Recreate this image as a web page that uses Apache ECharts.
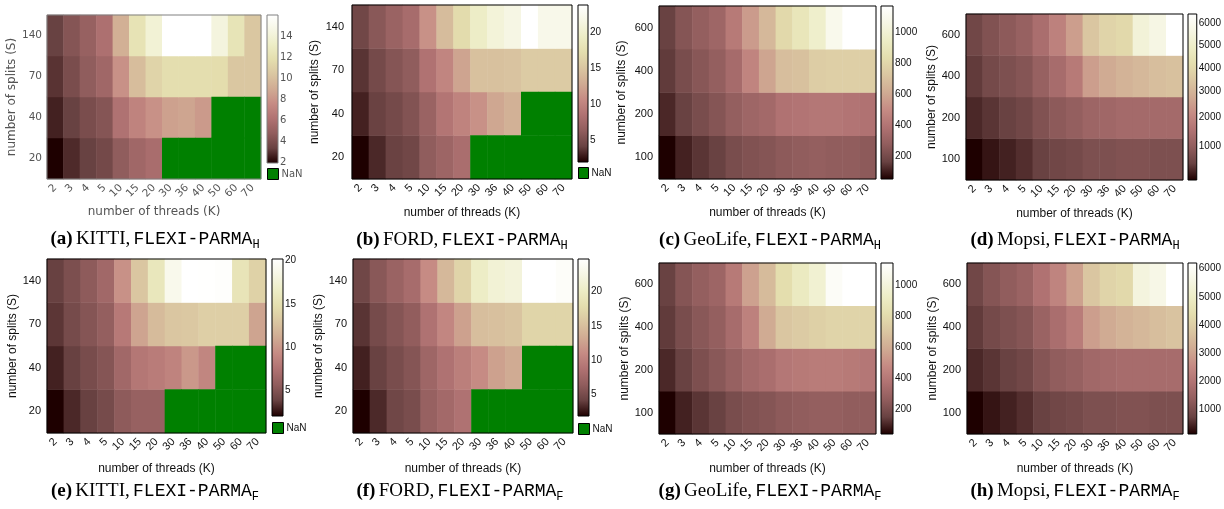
<!DOCTYPE html>
<html><head><meta charset="utf-8">
<script src="https://cdn.jsdelivr.net/npm/echarts@6/dist/echarts.min.js"></script>
<style>html,body{margin:0;padding:0;background:#fff}#c{width:1224px;height:509px}</style>
</head><body><div id="c"></div>
<script>
// ---------------- data ----------------
const threads = ['2','3','4','5','10','15','20','30','36','40','50','60','70'];
const splitsSmall = ['20','40','70','140'];
const splitsLarge = ['100','200','400','600'];

// rows listed bottom -> top (same order as the split categories); null = NaN
const kittiH = [
  [1.9,2.8,3.3,3.7,4.7,5.4,5.8,null,null,null,null,null,null],
  [2.6,3.3,3.9,4.3,6.1,7.1,7.8,8.5,8.7,8.2,null,null,null],
  [3.0,3.9,4.7,5.4,7.8,9.9,11.2,11.8,11.8,11.8,11.7,10.4,10.4],
  [3.3,4.3,5.0,6.0,9.2,12.2,13.9,16.0,16.0,16.0,14.3,12.3,10.4]
];
const fordH = [
  [2.0,3.3,4.2,4.6,6.3,7.2,8.1,null,null,null,null,null,null],
  [3.1,4.2,4.8,5.5,7.0,8.8,10.0,11.1,12.6,13.3,null,null,null],
  [3.7,4.8,5.7,6.3,8.5,10.2,12.4,14.6,14.6,14.8,15.5,15.5,15.5],
  [4.6,5.9,7.0,7.9,11.1,14.2,17.0,19.4,20.7,21.5,23.7,22.0,22.0]
];
const geoH = [
  [50,106,140,162,207,230,240,263,274,285,274,274,263],
  [117,162,207,240,285,320,340,385,397,408,408,397,385],
  [150,207,250,285,350,465,590,690,700,755,765,765,765],
  [162,240,285,320,420,555,665,810,890,970,1090,1170,1170]
];
const mopsiH = [
  [130,209,279,358,485,576,623,720,720,770,770,720,720],
  [318,399,485,576,770,922,1029,1192,1247,1304,1304,1304,1304],
  [442,623,720,820,1082,1360,1711,2524,2787,2988,3123,3260,3329],
  [576,770,922,1082,1417,1893,2524,3467,3890,4033,5363,5670,6450]
];
const kittiF = [
  [2.0,3.1,3.8,4.4,5.5,6.0,6.0,null,null,null,null,null,null],
  [2.9,3.8,4.5,5.1,6.6,7.8,8.2,8.7,10.0,8.9,null,null,null],
  [3.5,4.4,5.1,5.8,8.0,10.7,12.2,12.9,13.1,13.6,13.6,13.6,10.7],
  [3.8,4.7,5.5,6.6,9.6,12.9,15.8,18.9,20.2,20.1,20.0,15.5,13.8]
];
const fordF = [
  [1.9,3.3,4.6,5.1,6.9,7.8,8.7,null,null,null,null,null,null],
  [3.0,4.2,5.1,5.8,7.4,8.7,9.9,11.0,12.6,13.3,null,null,null],
  [3.7,4.9,5.8,6.5,8.7,10.6,12.6,14.9,15.1,15.4,17.0,17.0,17.0],
  [4.6,6.0,7.1,8.1,11.0,14.4,16.9,20.1,21.3,21.7,24.7,24.7,24.2]
];
const geoF = [
  [41,96,129,151,195,217,228,250,261,272,272,261,261],
  [107,151,206,239,283,328,350,394,405,416,416,405,394],
  [140,195,239,272,339,438,592,702,724,746,768,768,768],
  [151,228,272,305,405,559,658,812,900,967,1110,1143,1143]
];
const mopsiF = [
  [136,318,439,561,742,864,924,1046,1046,1106,1106,1046,1046],
  [500,621,742,864,1167,1349,1470,1652,1713,1773,1773,1773,1773],
  [682,924,1046,1167,1531,1834,2198,2925,3168,3350,3471,3592,3714],
  [864,1167,1349,1531,1955,2380,2986,3774,4138,4260,5472,5654,6200]
];

// colour-bar ranges and tick labels
const rangeKittiH = [1.9, 16.0], ticksKittiH = [2,4,6,8,10,12,14];
const rangeFordH  = [2.0, 23.7], ticksFordH  = [5,10,15,20];
const rangeGeoH   = [50, 1170],  ticksGeoH   = [200,400,600,800,1000];
const rangeMopsiH = [130, 6450], ticksMopsiH = [1000,2000,3000,4000,5000,6000];
const rangeKittiF = [2.0, 20.2], ticksKittiF = [5,10,15,20];
const rangeFordF  = [1.9, 24.7], ticksFordF  = [5,10,15,20];
const rangeGeoF   = [41, 1143],  ticksGeoF   = [200,400,600,800,1000];
const rangeMopsiF = [136, 6200], ticksMopsiF = [1000,2000,3000,4000,5000,6000];

// ---------------- styling / layout ----------------
const pink = ['#1e0000','#694242','#915d5d','#b07272','#c68b84','#d0ab93','#dac6a1','#e4deae','#ededc6','#f6f6e4','#ffffff'];
const styleA = {font:'DejaVu Sans', color:'#555', border:'#808080', size:10.5};
const styleB = {font:'Liberation Sans', color:'#111', border:'#000', size:11};

const panels = [
  {tag:'a', ds:'KITTI',   sub:'H', rows:splitsSmall, vals:kittiH, range:rangeKittiH, ticks:ticksKittiH, gamma:1,   st:styleA,
   hm:[47,15,214,164],  cb:[267,15,11,148],  nan:[267,168], cap:[155,239], yGap:28, yMargin:5, xGap:27},
  {tag:'b', ds:'FORD',    sub:'H', rows:splitsSmall, vals:fordH,  range:rangeFordH,  ticks:ticksFordH,  gamma:1,   st:styleB,
   hm:[352,5,220,174],  cb:[578,5,10,157],   nan:[578,167], cap:[462,240], yGap:31, yMargin:8, xGap:28},
  {tag:'c', ds:'GeoLife', sub:'H', rows:splitsLarge, vals:geoH,   range:rangeGeoH,   ticks:ticksGeoH,   gamma:1,   st:styleB,
   hm:[659,6,217,173],  cb:[881,6,12,173],   nan:null,      cap:[770,240], yGap:31, yMargin:6, xGap:28},
  {tag:'d', ds:'Mopsi',   sub:'H', rows:splitsLarge, vals:mopsiH, range:rangeMopsiH, ticks:ticksMopsiH, gamma:0.8, st:styleB,
   hm:[966,14,217,166], cb:[1188,14,12,166], nan:null,      cap:[1075,240], yGap:27, yMargin:6, xGap:28},
  {tag:'e', ds:'KITTI',   sub:'F', rows:splitsSmall, vals:kittiF, range:rangeKittiF, ticks:ticksKittiF, gamma:1,   st:styleB,
   hm:[47,259,219,174], cb:[272,259,11,157], nan:[272,422], cap:[155,491], yGap:27, yMargin:6, xGap:30},
  {tag:'f', ds:'FORD',    sub:'F', rows:splitsSmall, vals:fordF,  range:rangeFordF,  ticks:ticksFordF,  gamma:1,   st:styleB,
   hm:[353,259,220,174],cb:[578,259,11,157], nan:[578,423], cap:[460,491], yGap:27, yMargin:6, xGap:30},
  {tag:'g', ds:'GeoLife', sub:'F', rows:splitsLarge, vals:geoF,   range:rangeGeoF,   ticks:ticksGeoF,   gamma:1,   st:styleB,
   hm:[659,263,217,171],cb:[881,263,12,171], nan:null,      cap:[770,491], yGap:27, yMargin:6, xGap:29},
  {tag:'h', ds:'Mopsi',   sub:'F', rows:splitsLarge, vals:mopsiF, range:rangeMopsiF, ticks:ticksMopsiF, gamma:1,   st:styleB,
   hm:[967,263,216,171],cb:[1188,263,12,171],nan:null,      cap:[1075,491], yGap:27, yMargin:6, xGap:29}
];

// ---------------- build option ----------------
const grid = [], xAxis = [], yAxis = [], series = [], visualMap = [], legend = [], graphic = [];

panels.forEach((p, i) => {
  const g0 = grid.length;
  const st = p.st;
  const norm = v => {
    const t = Math.min(1, Math.max(0, (v - p.range[0]) / (p.range[1] - p.range[0])));
    return Math.pow(t, p.gamma);
  };
  grid.push({left:p.hm[0], top:p.hm[1], width:p.hm[2], height:p.hm[3], show:true,
    borderColor:st.border, borderWidth:1, backgroundColor:'rgba(0,0,0,0)', z:10});
  grid.push({left:p.cb[0], top:p.cb[1], width:p.cb[2], height:p.cb[3], show:true,
    borderColor:st.border, borderWidth:1, backgroundColor:'rgba(0,0,0,0)', z:10});

  xAxis.push({type:'category', gridIndex:g0, data:threads,
    axisLine:{show:false}, axisTick:{show:false}, splitLine:{show:false},
    axisLabel:{rotate:45, margin:7, fontSize:st.size, color:st.color, fontFamily:st.font, interval:0},
    name:'number of threads (K)', nameLocation:'middle', nameGap:p.xGap,
    nameTextStyle:{fontSize:12, color:st.color, fontFamily:st.font}});
  yAxis.push({type:'category', gridIndex:g0, data:p.rows,
    axisLine:{show:false}, axisTick:{show:false}, splitLine:{show:false},
    axisLabel:{margin:p.yMargin, fontSize:st.size, color:st.color, fontFamily:st.font},
    name:'number of splits (S)', nameLocation:'middle', nameGap:p.yGap, nameRotate:90,
    nameTextStyle:{fontSize:12, color:st.color, fontFamily:st.font}});

  const tickPos = p.ticks.map(norm);
  xAxis.push({type:'value', gridIndex:g0+1, min:0, max:1, show:false});
  yAxis.push({type:'value', gridIndex:g0+1, min:0, max:1, position:'right',
    axisLine:{show:false}, splitLine:{show:false},
    axisTick:{show:true, length:3, customValues:tickPos, lineStyle:{color:st.color}},
    axisLabel:{show:true, customValues:tickPos, margin:2, fontSize:10, color:st.color, fontFamily:st.font,
      formatter: v => { let best = 0; tickPos.forEach((q, k) => { if (Math.abs(q - v) < Math.abs(tickPos[best] - v)) best = k; }); return String(p.ticks[best]); }}});

  const hmData = [], nanData = [];
  p.vals.forEach((row, r) => row.forEach((v, c) => {
    if (v === null) nanData.push([c, r, 1]); else hmData.push([c, r, norm(v)]);
  }));
  const axisIdx = xAxis.length - 2;
  series.push({type:'heatmap', name:'val'+p.tag, xAxisIndex:axisIdx, yAxisIndex:axisIdx, data:hmData, silent:true});
  visualMap.push({type:'continuous', show:false, min:0, max:1, dimension:2, seriesIndex:series.length-1, inRange:{color:pink}});
  if (nanData.length) {
    series.push({type:'heatmap', name:'NaN', xAxisIndex:axisIdx, yAxisIndex:axisIdx, data:nanData, silent:true,
      itemStyle:{color:'#008000'}});
    legend.push({data:['NaN'], left:p.nan[0], top:p.nan[1], padding:0, itemWidth:p.cb[2], itemHeight:11, icon:'rect',
      selectedMode:false, itemStyle:{color:'#008000', borderColor:'#000', borderWidth:1},
      textStyle:{fontSize:10, color:st.color, fontFamily:st.font, padding:[0,0,0,-2]}});
  }
  series.push({type:'custom', xAxisIndex:axisIdx+1, yAxisIndex:axisIdx+1, data:[[0,0]], silent:true,
    renderItem:(params, api) => {
      const a = api.coord([0,0]), b = api.coord([1,1]);
      return {type:'rect', shape:{x:a[0], y:b[1], width:b[0]-a[0], height:a[1]-b[1]},
        style:{fill:new echarts.graphic.LinearGradient(0,1,0,0, pink.map((c,k)=>({offset:k/(pink.length-1), color:c})))}};
    }});

  graphic.push({type:'text', x:p.cap[0], y:p.cap[1],
    style:{text:`{b|(${p.tag})} {s|${p.ds},} {m|FLEXI-PARMA}{sub|${p.sub}}`, align:'center', verticalAlign:'middle',
      rich:{
        b:{fontFamily:'Liberation Serif', fontWeight:'bold', fontSize:19, lineHeight:24, fill:'#000'},
        s:{fontFamily:'Liberation Serif', fontSize:19, lineHeight:24, fill:'#000'},
        m:{fontFamily:'Liberation Mono', fontSize:18, lineHeight:24, fill:'#000'},
        sub:{fontFamily:'Liberation Mono', fontSize:12, lineHeight:11, verticalAlign:'bottom', fill:'#000'}
      }}});
});

const chart = echarts.init(document.getElementById('c'), null, {renderer:'canvas'});
chart.setOption({animation:false, backgroundColor:'#fff', grid, xAxis, yAxis, series, visualMap, legend, graphic});
</script></body></html>
